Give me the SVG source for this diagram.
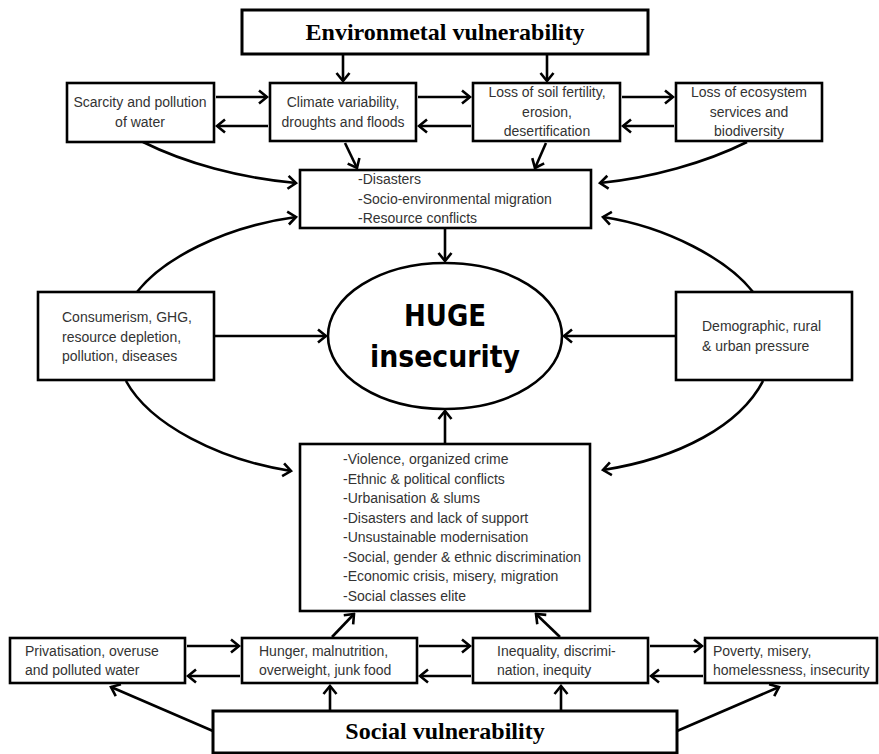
<svg xmlns="http://www.w3.org/2000/svg" width="879" height="754" viewBox="0 0 879 754">
<defs>
<style>
.box{fill:#fff;stroke:#000;stroke-width:2.6}
.t{font-family:"Liberation Sans",Arial,sans-serif;font-size:14px;fill:#333}
.c{text-anchor:middle}
.title{font-family:"Liberation Serif","Times New Roman",serif;font-weight:bold;font-size:24px;fill:#000;text-anchor:middle}
.huge{font-family:"DejaVu Sans",Verdana,sans-serif;font-weight:bold;font-size:31px;fill:#000;text-anchor:middle}
.ln{fill:none;stroke:#000;stroke-width:2.6;marker-end:url(#ah)}
</style>
<marker id="ah" viewBox="-11 -8 13 16" markerWidth="13" markerHeight="16" refX="0" refY="0" orient="auto" markerUnits="userSpaceOnUse">
<path d="M-8,-6.5 L0,0 L-8,6.5" fill="none" stroke="#000" stroke-width="2.6"/>
</marker>
</defs>
<rect width="879" height="754" fill="#fff"/>

<g id="connectors">
<line class="ln" x1="343" y1="55" x2="343" y2="81"/>
<line class="ln" x1="547" y1="55" x2="547" y2="81"/>
<line class="ln" x1="216" y1="97" x2="267" y2="97"/>
<line class="ln" x1="268" y1="126" x2="217" y2="126"/>
<line class="ln" x1="418" y1="97" x2="470" y2="97"/>
<line class="ln" x1="471" y1="126" x2="419" y2="126"/>
<line class="ln" x1="622" y1="97" x2="673" y2="97"/>
<line class="ln" x1="674" y1="126" x2="623" y2="126"/>
<line class="ln" x1="345" y1="143" x2="357" y2="168"/>
<line class="ln" x1="546" y1="143" x2="535" y2="168"/>
<path class="ln" d="M143,142 C185,163 240,178 296,183"/>
<path class="ln" d="M747,142 C705,163 650,178 600,183"/>
<path class="ln" d="M137,292 C162,260 222,227 296,217"/>
<path class="ln" d="M753,292 C728,260 668,227 603,217"/>
<line class="ln" x1="445" y1="229" x2="445" y2="261"/>
<line class="ln" x1="215" y1="336" x2="326" y2="336"/>
<line class="ln" x1="675" y1="336" x2="564" y2="336"/>
<line class="ln" x1="445" y1="443" x2="445" y2="411"/>
<path class="ln" d="M126,381 C150,425 220,460 291,471"/>
<path class="ln" d="M763,381 C740,425 680,458 603,470"/>
<line class="ln" x1="187" y1="646" x2="239" y2="646"/>
<line class="ln" x1="240" y1="676" x2="188" y2="676"/>
<line class="ln" x1="419" y1="646" x2="470" y2="646"/>
<line class="ln" x1="471" y1="676" x2="420" y2="676"/>
<line class="ln" x1="650" y1="646" x2="702" y2="646"/>
<line class="ln" x1="703" y1="676" x2="651" y2="676"/>
<line class="ln" x1="332" y1="637" x2="354" y2="614"/>
<line class="ln" x1="560" y1="637" x2="536" y2="614"/>
<line class="ln" x1="330" y1="710" x2="330" y2="686"/>
<line class="ln" x1="561" y1="710" x2="561" y2="686"/>
<line class="ln" x1="213" y1="731" x2="111" y2="687"/>
<line class="ln" x1="677" y1="731" x2="779" y2="687"/>
</g>

<g id="env-vulnerability">
<rect class="box" x="242" y="10" width="406" height="44" style="stroke-width:3"/>
<text class="title" x="445" y="40">Environmetal vulnerability</text>
</g>
<g id="scarcity">
<rect class="box" x="67" y="83" width="147" height="59"/>
<text class="t c" x="140" y="107">Scarcity and pollution</text>
<text class="t c" x="140" y="127">of water</text>
</g>
<g id="climate">
<rect class="box" x="270" y="83" width="146" height="58"/>
<text class="t c" x="343" y="107">Climate variability,</text>
<text class="t c" x="343" y="127">droughts and floods</text>
</g>
<g id="soil">
<rect class="box" x="473" y="83" width="147" height="58"/>
<text class="t c" x="547" y="97">Loss of soil fertility,</text>
<text class="t c" x="547" y="117">erosion,</text>
<text class="t c" x="547" y="136">desertification</text>
</g>
<g id="ecosystem">
<rect class="box" x="676" y="83" width="146" height="58"/>
<text class="t c" x="749" y="97">Loss of ecosystem</text>
<text class="t c" x="749" y="117">services and</text>
<text class="t c" x="749" y="136">biodiversity</text>
</g>
<g id="disasters">
<rect class="box" x="300" y="170" width="291" height="58"/>
<text class="t" x="358" y="184">-Disasters</text>
<text class="t" x="358" y="204">-Socio-environmental migration</text>
<text class="t" x="358" y="223">-Resource conflicts</text>
</g>
<g id="huge-insecurity">
<ellipse cx="445" cy="336" rx="117" ry="73" fill="#fff" stroke="#000" stroke-width="2.6"/>
<text class="huge" x="445" y="326" textLength="82" lengthAdjust="spacingAndGlyphs">HUGE</text>
<text class="huge" x="445" y="367" textLength="150" lengthAdjust="spacingAndGlyphs">insecurity</text>
</g>
<g id="consumerism">
<rect class="box" x="38" y="292" width="176" height="88"/>
<text class="t" x="62" y="322">Consumerism, GHG,</text>
<text class="t" x="62" y="342">resource depletion,</text>
<text class="t" x="62" y="361">pollution, diseases</text>
</g>
<g id="demographic">
<rect class="box" x="676" y="292" width="176" height="88"/>
<text class="t" x="702" y="331">Demographic, rural</text>
<text class="t" x="702" y="351">&amp; urban pressure</text>
</g>
<g id="social-issues">
<rect class="box" x="300" y="444" width="290" height="167"/>
<text class="t" x="343" y="464">-Violence, organized crime</text>
<text class="t" x="343" y="484">-Ethnic &amp; political conflicts</text>
<text class="t" x="343" y="503">-Urbanisation &amp; slums</text>
<text class="t" x="343" y="523">-Disasters and lack of support</text>
<text class="t" x="343" y="542">-Unsustainable modernisation</text>
<text class="t" x="343" y="562">-Social, gender &amp; ethnic discrimination</text>
<text class="t" x="343" y="581">-Economic crisis, misery, migration</text>
<text class="t" x="343" y="601">-Social classes elite</text>
</g>
<g id="privatisation">
<rect class="box" x="10" y="638" width="175" height="45"/>
<text class="t" x="25" y="656">Privatisation, overuse</text>
<text class="t" x="25" y="675">and polluted water</text>
</g>
<g id="hunger">
<rect class="box" x="242" y="638" width="175" height="45"/>
<text class="t" x="259" y="656">Hunger, malnutrition,</text>
<text class="t" x="259" y="675">overweight, junk food</text>
</g>
<g id="inequality">
<rect class="box" x="473" y="638" width="175" height="45"/>
<text class="t" x="497" y="656">Inequality, discrimi-</text>
<text class="t" x="497" y="675">nation, inequity</text>
</g>
<g id="poverty">
<rect class="box" x="705" y="638" width="172" height="45"/>
<text class="t" x="713" y="656">Poverty, misery,</text>
<text class="t" x="713" y="675">homelessness, insecurity</text>
</g>
<g id="social-vulnerability">
<rect class="box" x="213" y="711" width="464" height="42" style="stroke-width:3"/>
<text class="title" x="445" y="739">Social vulnerability</text>
</g>
</svg>
